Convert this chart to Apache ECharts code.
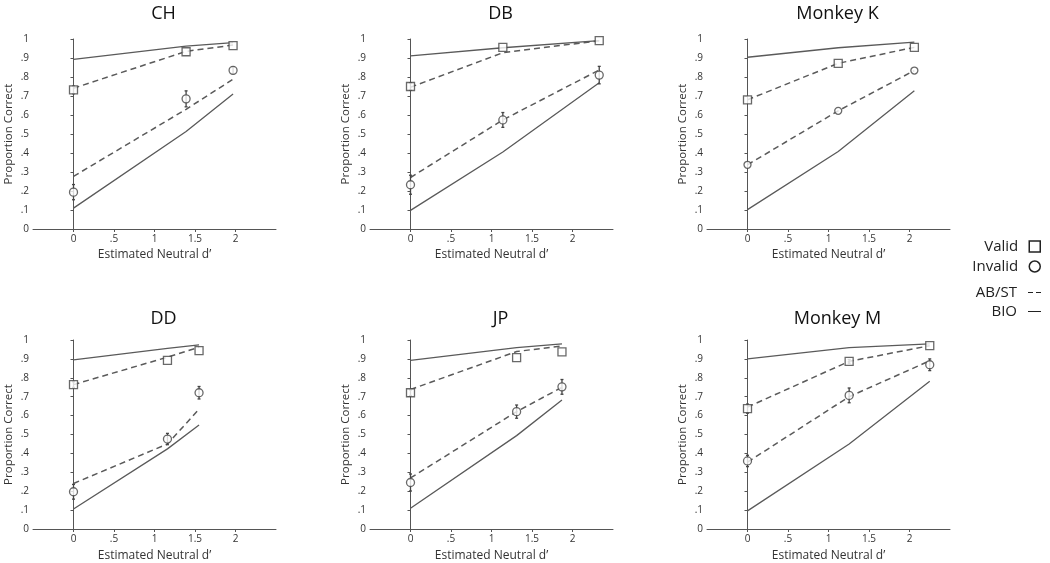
<!DOCTYPE html>
<html>
<head>
<meta charset="utf-8">
<script src="https://cdn.jsdelivr.net/npm/echarts@6/dist/echarts.min.js"></script>
<style>
html,body{margin:0;padding:0;background:#fff;}
#chart{width:1050px;height:563px;}
</style>
</head>
<body>
<div id="chart"></div>
<script>
// ---------- data ----------
const panelNames = ['CH', 'DB', 'Monkey K', 'DD', 'JP', 'Monkey M'];
const neutralD = [
  [0, 1.39, 1.97],
  [0, 1.14, 2.33],
  [0, 1.12, 2.06],
  [0, 1.16, 1.55],
  [0, 1.31, 1.87],
  [0, 1.255, 2.25]
];
const validPC = [
  [0.732, 0.933, 0.965],
  [0.750, 0.956, 0.991],
  [0.680, 0.872, 0.956],
  [0.764, 0.892, 0.944],
  [0.721, 0.907, 0.937],
  [0.637, 0.887, 0.970]
];
const validErr = [
  [0.02, 0, 0],
  [0.02, 0, 0],
  [0, 0, 0],
  [0.015, 0, 0],
  [0.015, 0, 0],
  [0.024, 0.01, 0]
];
const invalidPC = [
  [0.194, 0.685, 0.835],
  [0.233, 0.574, 0.810],
  [0.338, 0.622, 0.834],
  [0.197, 0.476, 0.721],
  [0.246, 0.621, 0.752],
  [0.360, 0.707, 0.869]
];
const invalidErr = [
  [0.040, 0.042, 0.017],
  [0.050, 0.039, 0.046],
  [0, 0, 0],
  [0.039, 0.030, 0.033],
  [0.045, 0.035, 0.039],
  [0.030, 0.039, 0.031]
];
const abstValid = [
  [0.741, 0.935, 0.968],
  [0.746, 0.928, 0.991],
  [0.680, 0.872, 0.956],
  [0.764, 0.909, 0.962],
  [0.738, 0.939, 0.969],
  [0.645, 0.887, 0.970]
];
const abstInvalid = [
  [0.277, 0.630, 0.788],
  [0.271, 0.574, 0.837],
  [0.338, 0.622, 0.834],
  [0.241, 0.450, 0.634],
  [0.270, 0.621, 0.750],
  [0.354, 0.700, 0.890]
];
const bioValid = [
  [0.893, 0.963, 0.981],
  [0.911, 0.954, 0.991],
  [0.904, 0.954, 0.984],
  [0.895, 0.956, 0.974],
  [0.892, 0.960, 0.979],
  [0.900, 0.960, 0.979]
];
const bioInvalid = [
  [0.110, 0.513, 0.711],
  [0.098, 0.405, 0.770],
  [0.102, 0.408, 0.728],
  [0.106, 0.424, 0.550],
  [0.110, 0.494, 0.682],
  [0.096, 0.450, 0.782]
];
const xTickValues = [0, 0.5, 1, 1.5, 2];
const xTickLabels = ['0', '.5', '1', '1.5', '2'];
const yTickLabels = ['0', '.1', '.2', '.3', '.4', '.5', '.6', '.7', '.8', '.9', '1'];
const legendNames = ['Valid', 'Invalid', 'AB/ST', 'BIO'];

// ---------- layout ----------
const FONT = 'Open Sans';
const lefts = [33, 370, 707];
const tops = [39, 340];
const gw = 243, gh = [190, 191];
const titleTops = [0, 305];
const axisColor = '#555';
const textColor = '#333';

const grids = [], xAxes = [], yAxes = [], titles = [], series = [];

function pairs(xs, ys) { return xs.map((x, i) => [x, ys[i]]); }
function errData(xs, ys, es) {
  const out = [];
  xs.forEach((x, i) => { if (es[i] > 0) out.push([x, ys[i], es[i]]); });
  return out;
}
function errRender(params, api) {
  const x = api.value(0), y = api.value(1), e = api.value(2);
  const t = api.coord([x, y + e]);
  const b = api.coord([x, y - e]);
  const st = { stroke: '#444', lineWidth: 1.3 };
  return {
    type: 'group',
    children: [
      { type: 'line', shape: { x1: t[0], y1: t[1], x2: b[0], y2: b[1] }, style: st },
      { type: 'line', shape: { x1: t[0] - 1.5, y1: t[1], x2: t[0] + 1.5, y2: t[1] }, style: st },
      { type: 'line', shape: { x1: b[0] - 1.5, y1: b[1], x2: b[0] + 1.5, y2: b[1] }, style: st }
    ]
  };
}

panelNames.forEach((name, p) => {
  const row = Math.floor(p / 3), col = p % 3;
  grids.push({ left: lefts[col], top: tops[row], width: gw, height: gh[row], containLabel: false });
  titles.push({
    text: name, left: lefts[col] + gw / 2 + 4, top: titleTops[row], textAlign: 'center',
    textStyle: { fontFamily: FONT, fontSize: 18, fontWeight: 'normal', color: '#111' }
  });
  xAxes.push({
    gridIndex: p, type: 'value', min: -0.5, max: 2.5, interval: 0.5,
    name: 'Estimated Neutral d\u2019', nameLocation: 'middle', nameGap: row === 0 ? 20 : 21,
    nameTextStyle: { fontFamily: FONT, fontSize: 12, color: textColor },
    axisLine: { show: true, onZero: false, lineStyle: { color: axisColor, width: 1 } },
    axisTick: { show: true, length: 3, customValues: xTickValues, lineStyle: { color: axisColor } },
    axisLabel: {
      customValues: xTickValues, margin: 5, fontFamily: FONT, fontSize: 10, color: textColor,
      formatter: v => xTickLabels[Math.round(v * 2)] || ''
    },
    splitLine: { show: false }
  });
  yAxes.push({
    gridIndex: p, type: 'value', min: 0, max: 1, interval: 0.1,
    name: 'Proportion Correct', nameLocation: 'middle', nameGap: 18,
    nameTextStyle: { fontFamily: FONT, fontSize: 11.5, color: textColor },
    axisLine: { show: true, lineStyle: { color: axisColor, width: 1 } },
    axisTick: { show: true, length: 3, lineStyle: { color: axisColor } },
    axisLabel: {
      margin: 4, fontFamily: FONT, fontSize: 10, color: textColor,
      formatter: v => yTickLabels[Math.round(v * 10)]
    },
    splitLine: { show: false }
  });
  const xs = neutralD[p];
  const common = { xAxisIndex: p, yAxisIndex: p, animation: false };
  series.push(Object.assign({
    name: 'BIO', type: 'line', data: pairs(xs, bioValid[p]), symbol: 'none', z: 2,
    lineStyle: { color: '#5a5a5a', width: 1.3, type: 'solid' }, itemStyle: { color: '#5a5a5a' }
  }, common));
  series.push(Object.assign({
    name: 'BIO', type: 'line', data: pairs(xs, bioInvalid[p]), symbol: 'none', z: 2,
    lineStyle: { color: '#5a5a5a', width: 1.3, type: 'solid' }, itemStyle: { color: '#5a5a5a' }
  }, common));
  series.push(Object.assign({
    name: 'AB/ST', type: 'line', data: pairs(xs, abstValid[p]), symbol: 'none', z: 3,
    lineStyle: { color: '#5a5a5a', width: 1.5, type: [6, 4] }, itemStyle: { color: '#5a5a5a' }
  }, common));
  series.push(Object.assign({
    name: 'AB/ST', type: 'line', data: pairs(xs, abstInvalid[p]), symbol: 'none', z: 3,
    lineStyle: { color: '#5a5a5a', width: 1.5, type: [6, 4] }, itemStyle: { color: '#5a5a5a' }
  }, common));
  series.push(Object.assign({
    name: 'Valid', type: 'custom', renderItem: errRender, data: errData(xs, validPC[p], validErr[p]), z: 4,
    encode: { x: 0, y: 1 }
  }, common));
  series.push(Object.assign({
    name: 'Invalid', type: 'custom', renderItem: errRender, data: errData(xs, invalidPC[p], invalidErr[p]), z: 4,
    encode: { x: 0, y: 1 }
  }, common));
  series.push(Object.assign({
    name: 'Valid', type: 'scatter', data: pairs(xs, validPC[p]), symbol: 'rect', symbolSize: 8, z: 5,
    itemStyle: { color: '#fff', borderColor: '#444', borderWidth: 1.3 }
  }, common));
  series.push(Object.assign({
    name: 'Invalid', type: 'scatter', data: pairs(xs, invalidPC[p]), symbol: 'circle', symbolSize: p === 2 ? 7 : 8, z: 5,
    itemStyle: { color: '#fff', borderColor: '#444', borderWidth: 1.3 }
  }, common));
});

const legendTops = [234, 254, 280, 299];
const legendIcons = [
  { icon: 'rect', w: 11, h: 11, style: { color: '#fff', borderColor: '#222', borderWidth: 1.5 } },
  { icon: 'circle', w: 11, h: 11, style: { color: '#fff', borderColor: '#222', borderWidth: 1.5 } },
  { icon: 'path://M0,0H5V1H0Z M8,0H13V1H8Z', w: 13, h: 2, style: { color: '#222', borderWidth: 0 } },
  { icon: 'path://M0,0H13V1H0Z', w: 13, h: 2, style: { color: '#222', borderWidth: 0 } }
];
const legends = legendNames.map((n, i) => ({
  show: true, right: 4, top: legendTops[i], orient: 'vertical', align: 'right',
  selectedMode: false,
  itemWidth: legendIcons[i].w, itemHeight: legendIcons[i].h,
  textStyle: { fontFamily: FONT, fontSize: 15, color: '#222', padding: [0, 6, 0, 0] },
  data: [{ name: n, icon: legendIcons[i].icon, itemStyle: legendIcons[i].style }]
}));

const chart = echarts.init(document.getElementById('chart'), null, { renderer: 'canvas' });
chart.setOption({
  backgroundColor: '#fff',
  animation: false,
  title: titles,
  grid: grids,
  xAxis: xAxes,
  yAxis: yAxes,
  legend: legends,
  series: series
});
</script>
</body>
</html>
